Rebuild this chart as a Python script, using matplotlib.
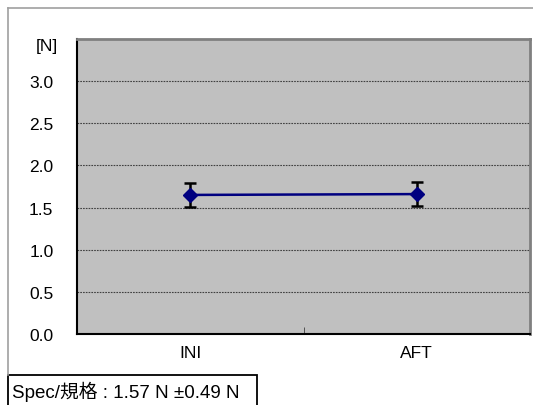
import matplotlib
matplotlib.use('Agg')
import matplotlib.pyplot as plt
from matplotlib.lines import Line2D
from matplotlib.patches import Rectangle

plt.rcParams['font.family'] = ['Liberation Sans', 'Noto Sans CJK JP']

# data
categories = ['INI', 'AFT']
means = [1.65, 1.66]
errors = [0.14, 0.14]
yticks = [0.0, 0.5, 1.0, 1.5, 2.0, 2.5, 3.0]
unit_label = '[N]'
spec_text = 'Spec/規格 : 1.57 N \u00b10.49 N'

W, H = 533, 406
fs = 12.5
fig = plt.figure(figsize=(W / 100, H / 100), dpi=100)
ax = fig.add_axes([77 / W, 1 - 335 / H, 453 / W, 295 / H])
ax.set_facecolor('#c0c0c0')

x = list(range(len(categories)))
ax.errorbar(x, means, yerr=errors, color='#000080', lw=1.8,
            marker='D', ms=7, mfc='#000080', mec='#000080',
            ecolor='black', elinewidth=1.8, capsize=4, capthick=1.8, zorder=3)

ax.set_xlim(-0.5, 1.5)
ax.set_ylim(0, 3.5)
ax.set_yticks(yticks)
ax.set_yticklabels([f'{v:.1f}' for v in yticks], fontsize=fs)
ax.tick_params(axis='y', length=0, pad=17)
ax.set_xticks(x)
ax.set_xticklabels(categories, fontsize=fs)
ax.tick_params(axis='x', length=0, pad=8)
# middle category boundary tick
ax.set_xticks([0.5], minor=True)
ax.tick_params(axis='x', which='minor', direction='in', length=5, color='#404040')

for v in yticks[1:]:
    ax.axhline(v, color='#404040', lw=0.8, ls=(0, (1.5, 1)), zorder=1)

ax.spines['left'].set_color('black')
ax.spines['bottom'].set_color('black')
ax.spines['left'].set_linewidth(1.5)
ax.spines['bottom'].set_linewidth(1.5)
ax.spines['top'].set_color('#808080')
ax.spines['right'].set_color('#808080')
ax.spines['top'].set_linewidth(2)
ax.spines['right'].set_linewidth(2)

fig.text(47 / W, 1 - 47 / H, unit_label, ha='center', va='center', fontsize=fs)

# outer chart border (gray)
fig.add_artist(Line2D([8 / W, 1.0], [1 - 9 / H, 1 - 9 / H], color='#a0a0a0', lw=1.2))
fig.add_artist(Line2D([8 / W, 8 / W], [1 - 9 / H, 1 - 376 / H], color='#a0a0a0', lw=1.2))

# spec box
fig.add_artist(Rectangle((8 / W, -0.01), 249 / W, 0.01 + 30 / H,
                         transform=fig.transFigure, fc='white', ec='black', lw=1.3))
fig.text(12 / W, 1 - 392 / H, spec_text.replace('N \u00b1', 'N \u00b1 ').replace('\u00b1 ', '\u00b1'),
         ha='left', va='center', fontsize=13.5)

fig.savefig('out.png', dpi=100)
